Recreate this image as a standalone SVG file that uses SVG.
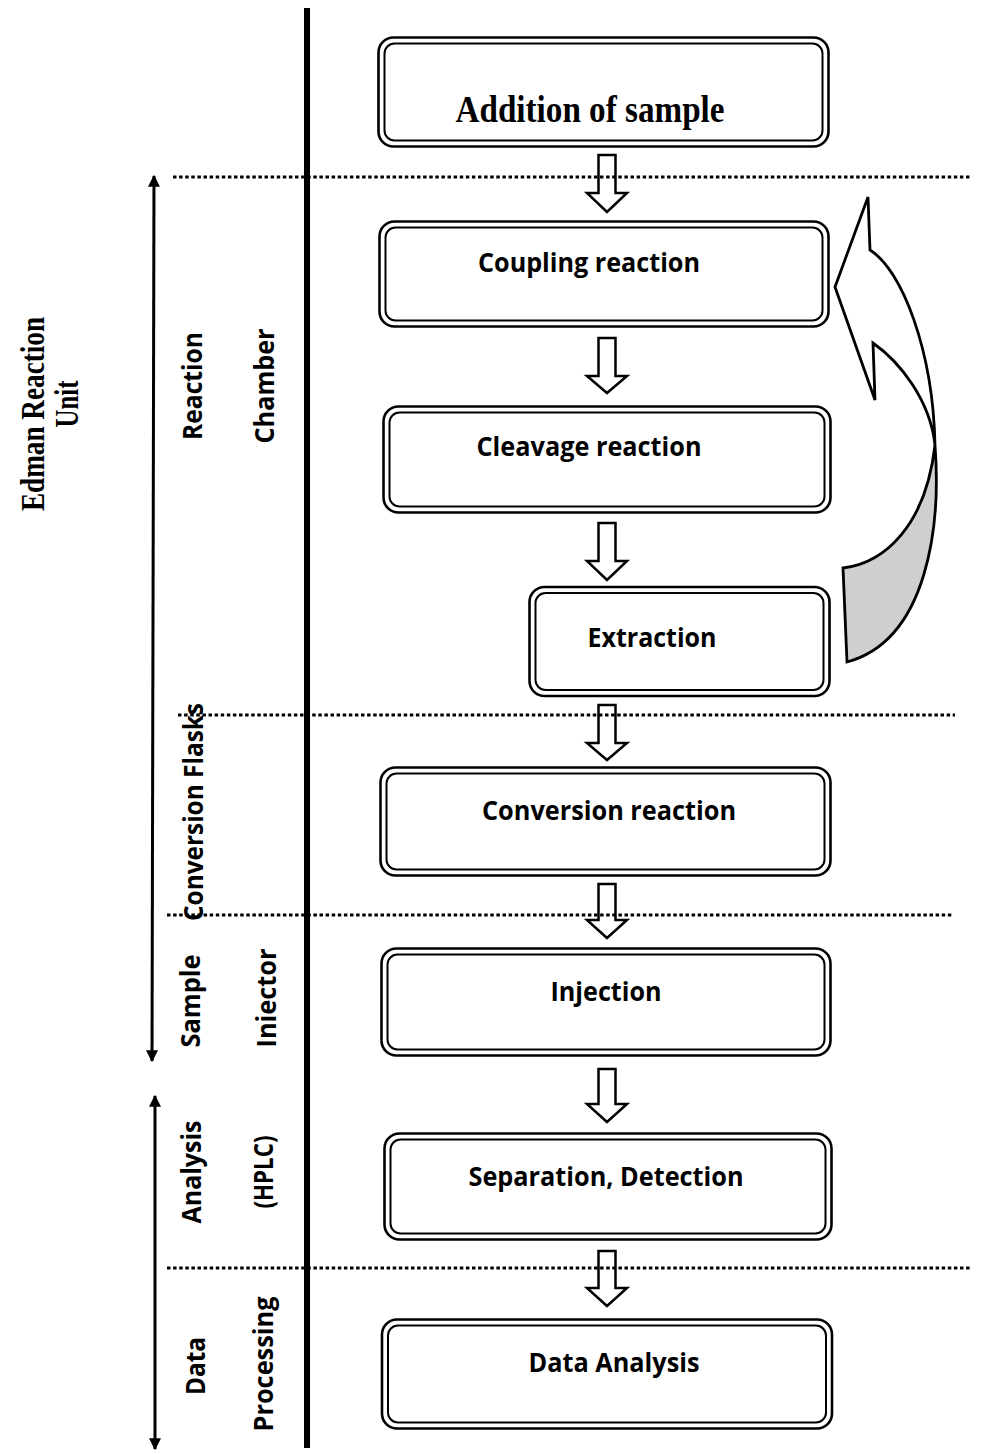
<svg xmlns="http://www.w3.org/2000/svg" width="981" height="1454" viewBox="0 0 981 1454">
<style>
.bo{fill:#fff;stroke:#000;stroke-width:2.6}
.bi{fill:none;stroke:#000;stroke-width:2}
.t{font-family:"Open Sans","Liberation Sans",sans-serif;font-weight:700;font-size:27px;text-anchor:middle;fill:#000}
.ts{font-family:"Liberation Serif","Times New Roman",serif;font-weight:700;text-anchor:middle;fill:#000}
.ba{fill:#fff;stroke:#000;stroke-width:2.5;stroke-linejoin:miter}
.dot{stroke:#000;stroke-width:3.2;stroke-dasharray:3.5 2.6;fill:none}
.lab{font-family:"Open Sans","Liberation Sans",sans-serif;font-weight:700;font-size:26px;text-anchor:middle;fill:#000}
</style>
<defs>
<marker id="ah" viewBox="0 0 10 10" refX="9" refY="5" markerWidth="4" markerHeight="5.5" orient="auto-start-reverse" markerUnits="strokeWidth">
<path d="M0,0 L10,5 L0,10 Z" fill="#000"/>
</marker>
</defs>
<rect width="981" height="1454" fill="#fff"/>

<g id="connectors">
<path class="ba" d="M598.5,155 H615.5 V193 H627 L607,212 L587,193 H598.5 Z"/>
<path class="ba" d="M598.5,338 H615.5 V376 H627 L607,393 L587,376 H598.5 Z"/>
<path class="ba" d="M598.5,523 H615.5 V561 H627 L607,580 L587,561 H598.5 Z"/>
<path class="ba" d="M598.5,705 H615.5 V743 H627 L607,760 L587,743 H598.5 Z"/>
<path class="ba" d="M598.5,884 H615.5 V920 H627 L607,938 L587,920 H598.5 Z"/>
<path class="ba" d="M598.5,1069 H615.5 V1104 H627 L607,1122 L587,1104 H598.5 Z"/>
<path class="ba" d="M598.5,1251 H615.5 V1288 H627 L607,1306 L587,1288 H598.5 Z"/>
<g id="loop-arrow" stroke="#000" stroke-width="2.8" stroke-linejoin="miter">
<path fill="#cfcfcf" d="M935,445 C941,525 928,640 847,662 L843,568 C885,563 926,525 935,445 Z"/>
<path fill="#fff" d="M835,287 L868,197 L870,250 C902,270 933,350 935,445 C930,400 900,362 873,343 L875,400 Z"/>
</g>
</g>

<g id="divider">
<line x1="307" y1="8" x2="307" y2="1448" stroke="#000" stroke-width="6"/>
</g>
<g id="dotted-lines">
<line class="dot" x1="173" y1="177" x2="970" y2="177"/>
<line class="dot" x1="178" y1="715" x2="955" y2="715"/>
<line class="dot" x1="167" y1="915" x2="953" y2="915"/>
<line class="dot" x1="167" y1="1268" x2="970" y2="1268"/>
</g>
<g id="ranges" stroke="#000" stroke-width="3">
<line x1="154" y1="176" x2="152" y2="1061" marker-start="url(#ah)" marker-end="url(#ah)"/>
<line x1="155" y1="1096" x2="155" y2="1449" marker-start="url(#ah)" marker-end="url(#ah)"/>
</g>

<g id="n-addition">
<rect class="bo" x="378.5" y="37.5" width="450" height="109" rx="15"/>
<rect class="bi" x="384.5" y="43.5" width="438" height="97" rx="10"/>
<text class="ts" x="590" y="122" font-size="37" textLength="269" lengthAdjust="spacingAndGlyphs">Addition of sample</text>
</g>
<g id="n-coupling">
<rect class="bo" x="379.5" y="221.5" width="449" height="105" rx="15"/>
<rect class="bi" x="385.5" y="227.5" width="437" height="93" rx="10"/>
<text class="t" x="589" y="272" textLength="222" lengthAdjust="spacingAndGlyphs">Coupling reaction</text>
</g>
<g id="n-cleavage">
<rect class="bo" x="383.5" y="406.5" width="447" height="106" rx="15"/>
<rect class="bi" x="389.5" y="412.5" width="435" height="94" rx="10"/>
<text class="t" x="589" y="456" textLength="225" lengthAdjust="spacingAndGlyphs">Cleavage reaction</text>
</g>
<g id="n-extraction">
<rect class="bo" x="529.5" y="587" width="300" height="109" rx="15"/>
<rect class="bi" x="535.5" y="593" width="288" height="97" rx="10"/>
<text class="t" x="652" y="647" textLength="129" lengthAdjust="spacingAndGlyphs">Extraction</text>
</g>
<g id="n-conversion">
<rect class="bo" x="380.5" y="767.5" width="450" height="108" rx="15"/>
<rect class="bi" x="386.5" y="773.5" width="438" height="96" rx="10"/>
<text class="t" x="609" y="820" textLength="254" lengthAdjust="spacingAndGlyphs">Conversion reaction</text>
</g>
<g id="n-injection">
<rect class="bo" x="381.5" y="948.5" width="449" height="107" rx="15"/>
<rect class="bi" x="387.5" y="954.5" width="437" height="95" rx="10"/>
<text class="t" x="606" y="1001" textLength="111" lengthAdjust="spacingAndGlyphs">Injection</text>
</g>
<g id="n-separation">
<rect class="bo" x="384.5" y="1133.5" width="447" height="106" rx="15"/>
<rect class="bi" x="390.5" y="1139.5" width="435" height="94" rx="10"/>
<text class="t" x="606" y="1186" textLength="275" lengthAdjust="spacingAndGlyphs">Separation, Detection</text>
</g>
<g id="n-data">
<rect class="bo" x="382" y="1319.5" width="450" height="109" rx="15"/>
<rect class="bi" x="388" y="1325.5" width="438" height="97" rx="10"/>
<text class="t" x="614" y="1372" textLength="171" lengthAdjust="spacingAndGlyphs">Data Analysis</text>
</g>

<g id="labels">
<text class="ts" font-size="33" transform="translate(44,414) rotate(-90)" textLength="194" lengthAdjust="spacingAndGlyphs">Edman Reaction</text>
<text class="ts" font-size="33" transform="translate(78,404) rotate(-90)" textLength="47" lengthAdjust="spacingAndGlyphs">Unit</text>
<text class="lab" transform="translate(202,386) rotate(-90)" textLength="108" lengthAdjust="spacingAndGlyphs">Reaction</text>
<text class="lab" transform="translate(274,386) rotate(-90)" textLength="115" lengthAdjust="spacingAndGlyphs">Chamber</text>
<text class="lab" transform="translate(203,812) rotate(-90)" textLength="218" lengthAdjust="spacingAndGlyphs">Conversion Flasks</text>
<text class="lab" transform="translate(200,1001) rotate(-90)" textLength="93" lengthAdjust="spacingAndGlyphs">Sample</text>
<text class="lab" transform="translate(276,998) rotate(-90)" textLength="99" lengthAdjust="spacingAndGlyphs">Iniector</text>
<text class="lab" transform="translate(201,1172) rotate(-90)" textLength="103" lengthAdjust="spacingAndGlyphs">Analysis</text>
<text class="lab" transform="translate(273,1172) rotate(-90)" textLength="73" lengthAdjust="spacingAndGlyphs">(HPLC)</text>
<text class="lab" transform="translate(205,1366) rotate(-90)" textLength="58" lengthAdjust="spacingAndGlyphs">Data</text>
<text class="lab" transform="translate(273,1364) rotate(-90)" textLength="135" lengthAdjust="spacingAndGlyphs">Processing</text>
</g>
</svg>
